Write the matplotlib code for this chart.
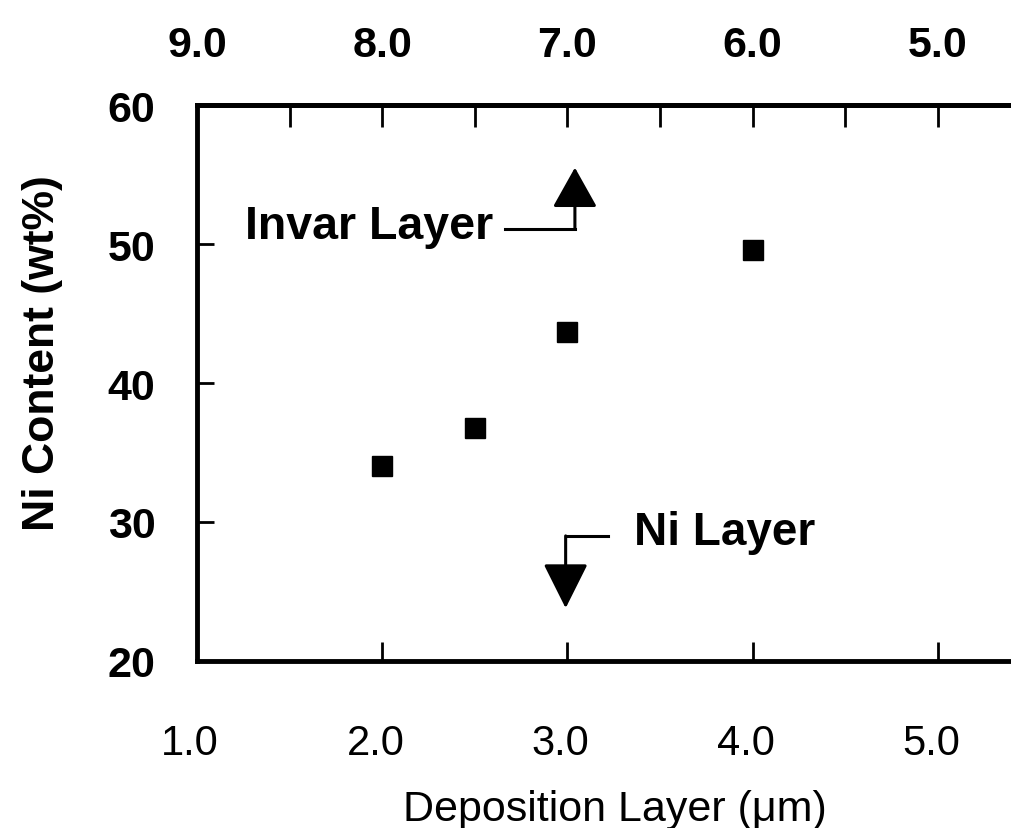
import matplotlib
matplotlib.use("Agg")
import matplotlib.pyplot as plt
from matplotlib.transforms import ScaledTranslation

plt.rcParams['font.family'] = ['Liberation Sans', 'DejaVu Sans']

# --- data ---
depth = [2.0, 2.5, 3.0, 4.0]          # Deposition Layer (um)
ni_content = [34.0, 36.8, 43.7, 49.6]  # Ni Content (wt%)

x_ticks = [2.0, 3.0, 4.0, 5.0]
x_ticklabels = ["1.0", "2.0", "3.0", "4.0", "5.0"]
top_ticks = [9.0, 8.0, 7.0, 6.0, 5.0]
top_minor = [8.5, 7.5, 6.5, 5.5]
y_ticks = [30, 40, 50]

fig = plt.figure(figsize=(10.11, 8.29), dpi=100)
ax = fig.add_axes([0.195, 0.2015, 0.805, 0.6705])

ax.plot(depth, ni_content, linestyle="none", marker="s", markersize=14,
        color="black")

ax.set_xlim(1.0, 5.395)
ax.set_ylim(20, 60)

for side in ["left", "bottom", "top"]:
    ax.spines[side].set_linewidth(3.5)
ax.spines["right"].set_visible(False)

# bottom axis
ax.set_xticks([1.0] + x_ticks)
ax.set_xticklabels(x_ticklabels)
ax.tick_params(axis="x", direction="in", length=14, width=2, pad=45,
               labelsize=30)
ax.xaxis.get_major_ticks()[0].tick1line.set_visible(False)
shift = ScaledTranslation(-7 / 100, 0, fig.dpi_scale_trans)
for lab in ax.get_xticklabels():
    lab.set_transform(lab.get_transform() + shift)

# left axis
ax.set_yticks([20] + y_ticks + [60])
ax.set_yticklabels(["20", "30", "40", "50", "60"], fontweight="bold")
ax.tick_params(axis="y", direction="in", length=12, width=2, pad=30,
               labelsize=31)

# top axis (reversed scale)
top = ax.secondary_xaxis("top", functions=(lambda x: 10 - x, lambda x: 10 - x))
top.set_xticks(top_ticks)
top.set_xticks(top_minor, minor=True)
top.set_xticklabels(["%.1f" % t for t in top_ticks], fontweight="bold")
top.tick_params(axis="x", which="both", direction="in", length=16, width=2,
                pad=29, labelsize=31)
top.spines["top"].set_linewidth(3.5)

ax.set_xlabel("Deposition Layer (μm)", fontsize=31)
ax.xaxis.set_label_coords(0.513, -0.23)
ax.set_ylabel("Ni Content (wt%)", fontsize=32, fontweight="bold")
ax.yaxis.set_label_coords(-0.165, 0.556)

# --- annotations ---
ax.text(1.26, 51.3, "Invar Layer", fontsize=33.5, fontweight="bold",
        va="center", ha="left")
ax.plot([2.66, 3.04], [51.1, 51.1], color="black", lw=2.2)
ax.annotate("", xy=(3.04, 55.5), xytext=(3.04, 51.1),
            arrowprops=dict(arrowstyle="-|>,head_length=2.5,head_width=1.4",
                            mutation_scale=10, lw=2.2, color="black",
                            shrinkA=0, shrinkB=0))

ax.text(3.36, 29.3, "Ni Layer", fontsize=33, fontweight="bold",
        va="center", ha="left")
ax.plot([2.99, 3.22], [29.0, 29.0], color="black", lw=2.2)
ax.annotate("", xy=(2.99, 23.8), xytext=(2.99, 29.0),
            arrowprops=dict(arrowstyle="-|>,head_length=2.8,head_width=1.4",
                            mutation_scale=10, lw=2.2, color="black",
                            shrinkA=0, shrinkB=0))

fig.savefig("out.png", dpi=100)
